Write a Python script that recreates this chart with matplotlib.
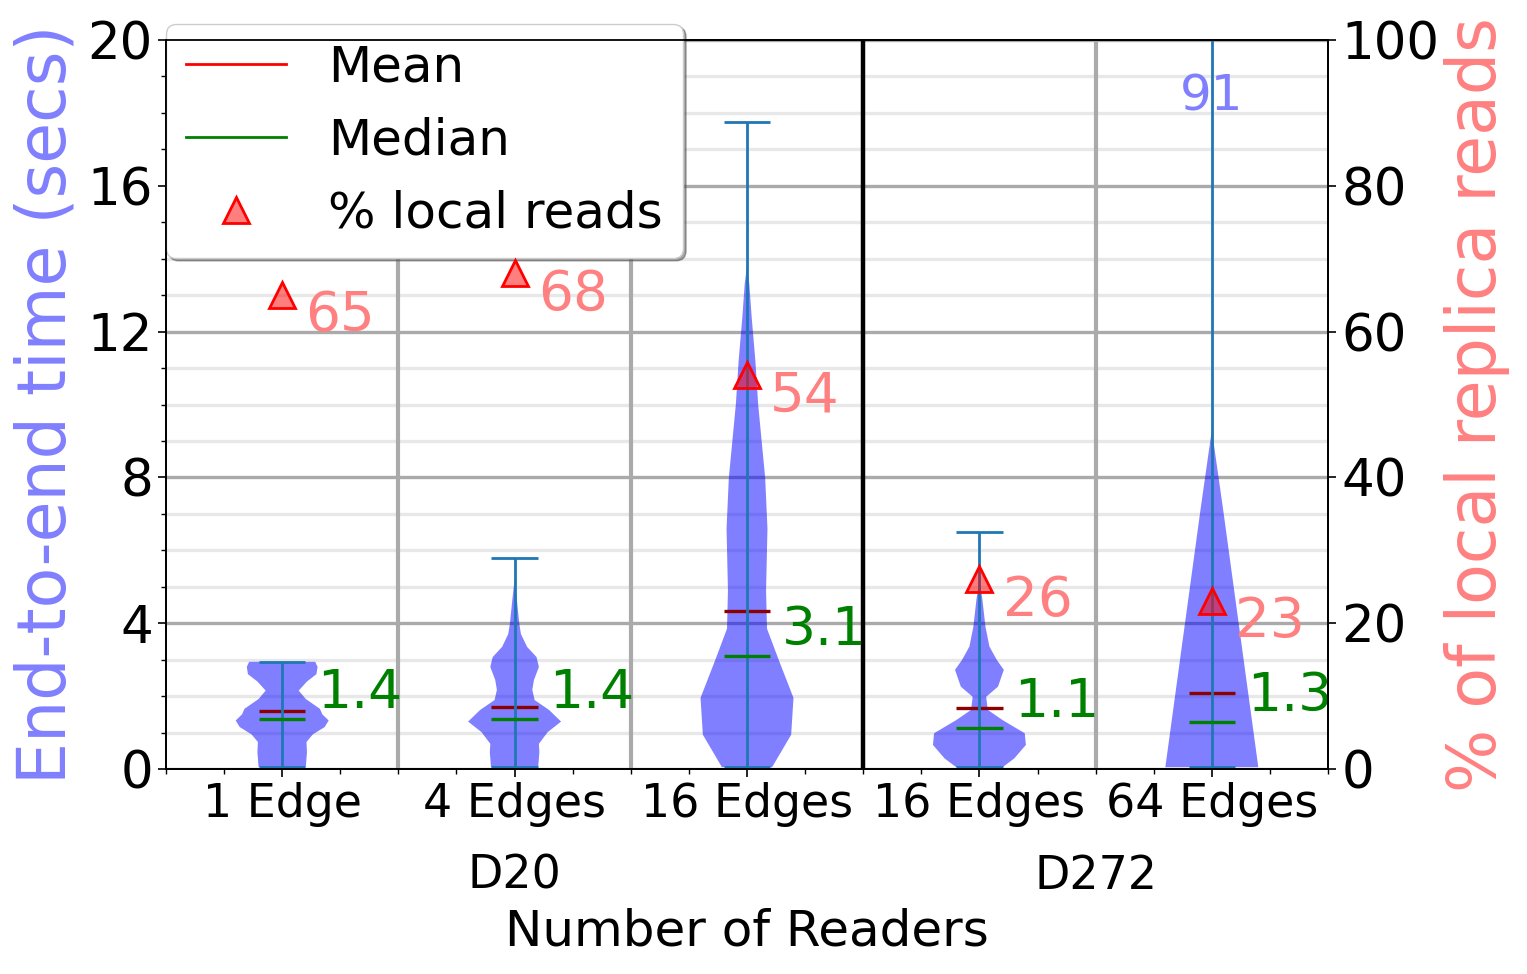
import matplotlib as mpl
mpl.use('Agg')
import matplotlib.pyplot as plt
import matplotlib.transforms as mtransforms
from matplotlib.lines import Line2D
from matplotlib.ticker import MultipleLocator
import numpy as np

# categories
edge_labels = ['1 Edge', '4 Edges', '16 Edges', '16 Edges', '64 Edges']
positions = [1, 2, 3, 4, 5]
datasets = ['D20', 'D272']
dataset_centers = [2, 4.5]
dataset_splits = [3.5]
edge_splits = [1.5, 2.5, 4.5]

# end-to-end time summaries (secs)
mean_secs = [1.59, 1.71, 4.33, 1.67, 2.09]
median_secs = [1.37, 1.37, 3.10, 1.12, 1.29]
min_secs = [0.05, 0.05, 0.05, 0.05, 0.05]
max_secs = [2.94, 5.80, 17.75, 6.51, 91.0]

# % of reads served by a local replica
local_reads_pct = [65, 68, 54, 26, 23]

# violin outlines: height (secs) -> relative half width
v1_y = [0.05, 0.46, 0.74, 0.95, 1.15, 1.33, 1.50, 1.65, 1.92, 2.15, 2.40, 2.60, 2.80, 2.94]
v1_w = [0.100, 0.105, 0.103, 0.130, 0.180, 0.197, 0.170, 0.160, 0.100, 0.070, 0.105, 0.145, 0.150, 0.140]
v2_y = [0.05, 0.46, 0.69, 1.01, 1.30, 1.62, 1.89, 2.17, 2.44, 2.80, 3.07, 3.35, 3.70, 3.98, 4.62, 5.20]
v2_w = [0.100, 0.105, 0.103, 0.140, 0.197, 0.146, 0.085, 0.075, 0.082, 0.103, 0.093, 0.053, 0.027, 0.020, 0.010, 0.0]
v3_y = [0.05, 0.94, 1.95, 3.00, 3.85, 4.90, 6.60, 8.00, 10.0, 11.2, 12.4, 13.3, 13.8]
v3_w = [0.108, 0.190, 0.200, 0.136, 0.086, 0.082, 0.088, 0.078, 0.048, 0.036, 0.020, 0.010, 0.0]
v4_y = [0.05, 0.29, 0.66, 0.98, 1.34, 1.62, 1.98, 2.26, 2.72, 2.99, 3.36, 3.90, 4.64, 5.20]
v4_w = [0.100, 0.150, 0.200, 0.195, 0.100, 0.036, 0.029, 0.080, 0.105, 0.075, 0.043, 0.026, 0.013, 0.0]
v5_y = [0.05, 7.10, 9.30]
v5_w = [0.200, 0.049, 0.0]

shapes = [(v1_y, v1_w), (v2_y, v2_w), (v3_y, v3_w), (v4_y, v4_w), (v5_y, v5_w)]

plt.rcParams['font.size'] = 33
plt.rcParams['axes.linewidth'] = 1.3

fig = plt.figure(figsize=(15.27, 9.74), dpi=100)
ax = fig.add_axes([0.1087, 0.2105, 0.761, 0.7484])

vpstats = []
for i in range(len(positions)):
    ys, ws = shapes[i]
    vpstats.append({'coords': np.array(ys), 'vals': np.array(ws),
                    'mean': mean_secs[i], 'median': median_secs[i],
                    'min': min_secs[i], 'max': max_secs[i]})

parts = ax.violin(vpstats, positions=positions, widths=0.4,
                  showmeans=True, showmedians=True, showextrema=True)
for b in parts['bodies']:
    b.set_facecolor('blue')
    b.set_edgecolor('none')
    b.set_alpha(0.5)
for k in ['cbars', 'cmins', 'cmaxes']:
    parts[k].set_color('#1f77b4')
    parts[k].set_linewidth(2)
parts['cmeans'].set_color('#8b0000')
parts['cmeans'].set_linewidth(2.4)
parts['cmedians'].set_color('green')
parts['cmedians'].set_linewidth(2.4)

ax.set_xlim(0.5, 5.5)
ax.set_ylim(0, 20)
ax.set_xticks(positions)
ax.set_xticklabels(edge_labels)
ax.xaxis.set_minor_locator(MultipleLocator(0.25))
ax.yaxis.set_major_locator(MultipleLocator(4))
ax.yaxis.set_minor_locator(MultipleLocator(1))
ax.tick_params(which='major', length=6, width=1.2)
ax.tick_params(which='minor', length=3.5, width=1.0)
ax.tick_params(axis='y', labelsize=37)

ax.grid(which='major', axis='y', color='#aaaaaa', lw=2.4)
ax.grid(which='minor', axis='y', color='#e8e8e8', lw=2.4)
ax.set_axisbelow(True)
for x in edge_splits:
    ax.axvline(x, color='#aaaaaa', lw=3, zorder=0.8)
for x in dataset_splits:
    ax.axvline(x, color='black', lw=3.2, zorder=0.8)

# median labels
for p, m in zip(positions, median_secs):
    ax.text(p + 0.15, m, f'{m:.1f}', color='green', fontsize=38.5,
            ha='left', va='bottom')

# max off the chart
ymax = ax.get_ylim()[1]
for p, mx in zip(positions, max_secs):
    if mx > ymax:
        ax.text(p, 19.1, f'{mx:.0f}', color='#8080ff', fontsize=36,
                ha='center', va='top')

ax.set_ylabel('End-to-end time (secs)', color='#8080ff', fontsize=48)
ax.yaxis.set_label_coords(-0.074, 0.5)

trans = mtransforms.blended_transform_factory(ax.transData, ax.transAxes)
for name, c in zip(datasets, dataset_centers):
    ax.text(c, -0.147, name, transform=trans, ha='center', va='center')
ax.set_xlabel('Number of Readers', fontsize=36)
ax.xaxis.set_label_coords(0.5, -0.19)

ax2 = ax.twinx()
ax2.set_ylim(0, 100)
ax2.yaxis.set_major_locator(MultipleLocator(20))
ax2.tick_params(which='major', length=6, width=1.2, labelsize=37)
ax2.plot(positions, local_reads_pct, ls='none', marker='^', ms=19,
         mfc=(1, 0, 0, 0.5), mec='red', mew=2)
for p, v in zip(positions, local_reads_pct):
    ax2.text(p + 0.1, v + 0.8, str(v), color='#ff8080', fontsize=39.5,
             ha='left', va='top')
ax2.set_ylabel('% of local replica reads', color='#ff8080', fontsize=48)
ax2.yaxis.set_label_coords(1.10, 0.5)

handles = [Line2D([], [], color='red', lw=2),
           Line2D([], [], color='green', lw=2),
           Line2D([], [], ls='none', marker='^', ms=19,
                  mfc=(1, 0, 0, 0.5), mec='red', mew=2)]
leg = ax.legend(handles, ['Mean', 'Median', '% local reads'],
                loc='upper left', bbox_to_anchor=(0.0, 1.022), borderaxespad=0,
                shadow=True, fancybox=True, framealpha=1, fontsize=36,
                handlelength=2.0, handletextpad=0.85, labelspacing=0.5)
leg.set_zorder(10)

fig.savefig('out.png', dpi=100)
